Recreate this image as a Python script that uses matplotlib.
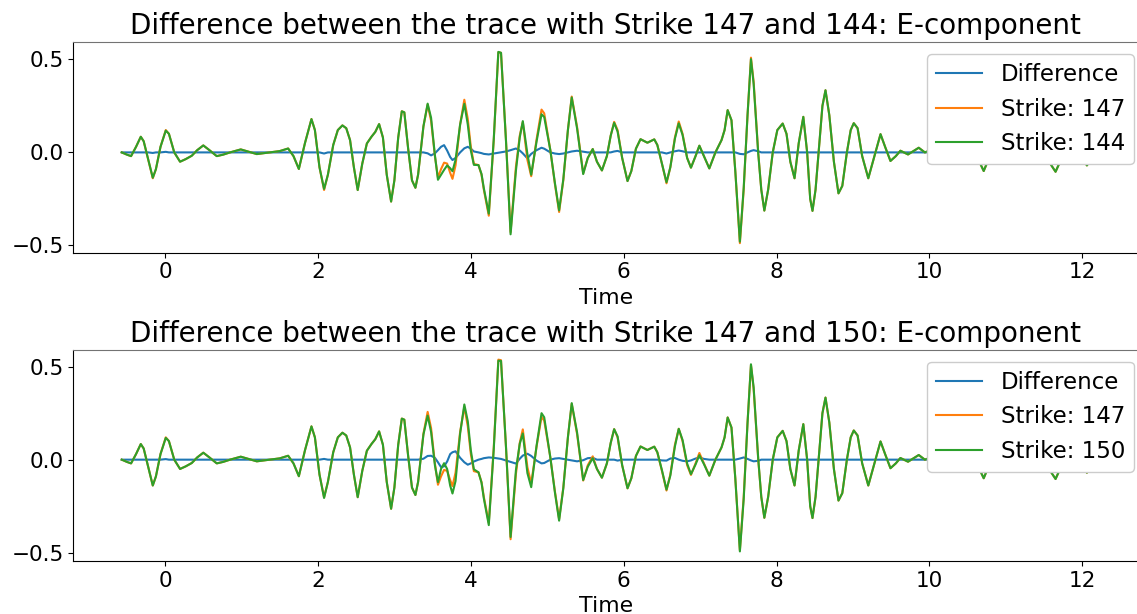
import matplotlib
matplotlib.use("Agg")
import matplotlib.pyplot as plt
import numpy as np

# Sample times (s) of the E-component traces
time = [
    -0.567, -0.50, -0.445, -0.38, -0.318, -0.28, -0.22, -0.161, -0.12, -0.06,
    0.009, 0.05, 0.12, 0.196, 0.27, 0.349, 0.42, 0.50, 0.58, 0.676,
    0.76, 0.85, 0.99, 1.09, 1.2, 1.37, 1.5, 1.61, 1.68, 1.75,
    1.83, 1.915, 1.96, 2.02, 2.08, 2.13, 2.20, 2.26, 2.32, 2.37,
    2.42, 2.47, 2.52, 2.58, 2.64, 2.70, 2.75, 2.80, 2.85, 2.90,
    2.957, 3.00, 3.05, 3.097, 3.13, 3.18, 3.23, 3.275, 3.31, 3.38,
    3.435, 3.48, 3.53, 3.57, 3.61, 3.65, 3.69, 3.73, 3.76, 3.80,
    3.86, 3.915, 3.96, 4.00, 4.04, 4.10, 4.14, 4.17, 4.235, 4.30,
    4.36, 4.395, 4.46, 4.52, 4.59, 4.64, 4.68, 4.74, 4.79, 4.86,
    4.925, 4.96, 5.04, 5.10, 5.155, 5.21, 5.27, 5.32, 5.39, 5.47,
    5.53, 5.595, 5.65, 5.715, 5.78, 5.83, 5.875, 5.92, 5.98, 6.05,
    6.10, 6.16, 6.22, 6.31, 6.40, 6.44, 6.50, 6.56, 6.61, 6.67,
    6.72, 6.77, 6.83, 6.88, 6.94, 6.99, 7.05, 7.12, 7.20, 7.28,
    7.32, 7.36, 7.41, 7.46, 7.52, 7.57, 7.62, 7.665, 7.70, 7.76,
    7.80, 7.84, 7.89, 7.95, 8.01, 8.08, 8.13, 8.18, 8.235, 8.29,
    8.35, 8.40, 8.44, 8.47, 8.51, 8.56, 8.60, 8.64, 8.69, 8.75,
    8.81, 8.86, 8.92, 8.97, 9.01, 9.06, 9.12, 9.20, 9.28, 9.36,
    9.42, 9.49, 9.56, 9.62, 9.72, 9.86, 9.94, 10.02, 10.12, 10.25,
    10.40, 10.53, 10.63, 10.71, 10.78, 10.87, 10.95, 11.05, 11.14, 11.22,
    11.32, 11.42, 11.52, 11.58, 11.65, 11.72, 11.82, 11.90, 11.97, 12.02,
    12.06, 12.10,
]

# Trace for strike 147
strike_147 = [
    0.0, -0.012, -0.02, 0.03, 0.084, 0.06, -0.04, -0.139, -0.09, 0.03,
    0.12, 0.10, 0.0, -0.05, -0.036, -0.018, 0.012, 0.0375, 0.012, -0.02,
    -0.012, 0.0, 0.016, 0.004, -0.009, 0.0, 0.007, 0.021, -0.02, -0.089,
    0.05, 0.179, 0.12, -0.08, -0.202, -0.12, 0.04, 0.12, 0.145, 0.13,
    0.066, -0.08, -0.202, -0.06, 0.048, 0.084, 0.11, 0.152, 0.08, -0.12,
    -0.264, -0.15, 0.08, 0.221, 0.215, 0.02, -0.15, -0.19, -0.12, 0.14,
    0.257, 0.17, -0.02, -0.135, -0.09, -0.055, -0.06, -0.11, -0.142, -0.07,
    0.15, 0.283, 0.18, 0.03, -0.062, -0.068, -0.12, -0.2, -0.34, 0.066,
    0.538, 0.535, 0.066, -0.428, -0.077, 0.09, 0.163, -0.04, -0.128, 0.07,
    0.23, 0.21, 0.0125, -0.17, -0.32, -0.15, 0.12, 0.30, 0.1375, -0.1125,
    -0.03, 0.018, -0.05, -0.097, -0.02, 0.09, 0.164, 0.12, -0.03, -0.154,
    -0.1, 0.02, 0.071, 0.052, 0.07, 0.04, -0.06, -0.166, -0.08, 0.08,
    0.166, 0.1, -0.03, -0.082, -0.02, 0.036, -0.02, -0.086, 0.0, 0.066,
    0.12, 0.227, 0.173, -0.1, -0.4875, -0.2, 0.2, 0.509, 0.38, 0.0,
    -0.2, -0.3125, -0.2, 0.0, 0.12, 0.155, 0.1, -0.05, -0.139, 0.05,
    0.191, 0.0, -0.25, -0.314, -0.2, 0.05, 0.25, 0.334, 0.2, -0.05,
    -0.22, -0.18, 0.0, 0.12, 0.157, 0.13, -0.02, -0.139, -0.02, 0.098,
    0.03, -0.046, -0.02, 0.009, -0.011, 0.025, 0.0, 0.012, 0.02, -0.01,
    0.03, 0.05, -0.03, -0.10, -0.03, 0.06, 0.03, -0.03, -0.06, -0.02,
    0.04, 0.05, 0.0, -0.06, -0.104, -0.04, 0.04, 0.05, 0.0, -0.04,
    -0.07, -0.045,
]

# Difference strike 147 minus strike 144
diff_144 = [
    0, 0, 0, 0, 0, 0, 0, -0.003, 0, 0,
    0.003, 0, 0, 0, 0, 0, 0, 0, 0, 0,
    0, 0, 0, 0, 0, 0, 0, 0, 0, 0,
    0, 0, 0, 0, -0.006, 0, 0, 0, 0, 0,
    0, 0, 0, 0, 0, 0, 0, 0, 0, 0,
    0, 0, 0, 0, 0, 0, 0, 0, 0, 0,
    -0.005, -0.016, -0.005, 0.012, 0.03, 0.039, 0.01, -0.025, -0.041, -0.03,
    0.0, 0.022, 0.03, 0.02, 0.005, 0.0, -0.004, -0.008, -0.011, -0.006,
    -0.002, 0.0, 0.005, 0.012, 0.021, 0.01, -0.005, -0.032, -0.008, 0.012,
    0.025, 0.02, 0.0, -0.006, -0.009, -0.006, 0.0, 0.005, 0.009, 0.004,
    0.0, 0, 0, 0, 0, 0, 0.005, 0.008, 0, 0,
    0, 0, 0, 0, 0, 0, 0, -0.006, 0, 0.006,
    0.01, 0.006, 0, 0, 0, 0, 0, 0, 0, 0,
    0, 0, 0, 0, -0.008, -0.01, 0, 0.008, 0.012, 0.006,
    0, 0, 0, 0, 0, 0, 0, 0, 0, 0,
    0, 0, 0, 0, 0, 0, 0, 0, 0, 0,
    0, 0, 0, 0, 0, 0, 0, 0, 0, 0,
    0, 0, 0, 0, 0, 0, 0, 0, 0, 0,
    0, 0, 0, 0, 0, 0, 0, 0, 0, 0,
    0, 0, 0, 0, 0, 0, 0, 0, 0, 0,
    0, 0,
]

# Difference strike 147 minus strike 150
diff_150 = [
    0, 0, 0, 0, 0, 0, 0, 0, 0, 0,
    0.003, 0, 0, 0, 0, 0, 0, 0, 0, 0,
    0, 0, 0, 0, 0, 0, 0, 0, 0, 0,
    0, 0, 0, 0, 0.004, 0, 0, 0, 0, 0,
    0, 0, 0, 0, 0, 0, 0, 0, 0, 0,
    0, 0, 0, 0, 0, 0, 0, 0, 0, 0.005,
    0.02, 0.021, 0.01, -0.014, -0.04, -0.036, -0.01, 0.03, 0.04, 0.045,
    0.01, -0.014, -0.027, -0.02, -0.01, 0.0, 0.004, 0.008, 0.012, 0.01,
    0.006, 0.004, -0.004, -0.012, -0.021, 0.005, 0.022, 0.032, 0.02, -0.005,
    -0.02, -0.018, 0.0, 0.006, 0.008, 0.004, 0.0, -0.004, -0.009, -0.003,
    0.008, 0.01, 0, 0, 0, 0, 0, -0.005, 0, 0,
    0, 0, 0, 0, 0, 0, -0.004, -0.005, 0.006, 0.009,
    0, -0.006, -0.009, -0.004, 0.006, 0.012, 0.004, 0, 0, 0,
    0, 0, 0, 0, 0.006, 0.012, 0.004, -0.004, -0.009, -0.006,
    0, 0, 0, 0, 0, 0, 0, 0, 0, 0,
    0, 0, 0, 0, 0, 0, 0, 0, 0, 0,
    0, 0, 0, 0, 0, 0, 0, 0, 0, 0,
    0, 0, 0, 0, 0, 0, 0, 0, 0, 0,
    0, 0, 0, 0, 0, 0, 0, 0, 0, 0,
    0, 0, 0, 0, 0, 0, 0, 0, 0, 0,
    0, 0,
]

reference_strike = 147
other_strikes = [144, 150]

t = np.array(time)
s_ref = np.array(strike_147)
diffs = {144: np.array(diff_144), 150: np.array(diff_150)}

fig = plt.figure(figsize=(11.37, 6.14), dpi=100)
ax_top = fig.add_axes([0.0645, 0.5884, 0.9367, 0.3427])
ax_bot = fig.add_axes([0.0645, 0.0863, 0.9367, 0.3436])
legend_tops = [0.912, 0.4109]

for ax, strike, ltop in zip([ax_top, ax_bot], other_strikes, legend_tops):
    d = diffs[strike]
    other = s_ref - d
    ax.plot(t, d, label="Difference")
    ax.plot(t, s_ref, label=f"Strike: {reference_strike}")
    ax.plot(t, other, label=f"Strike: {strike}")
    ax.set_title(f"Difference between the trace with Strike {reference_strike} "
                 f"and {strike}: E-component", fontsize=20)
    ax.set_xlabel("Time", fontsize=15.8)
    ax.tick_params(labelsize=15.5)
    ax.spines["right"].set_visible(False)
    ax.spines["top"].set_color("0.45")
    ax.legend(fontsize=16.5, loc="upper right", framealpha=1.0,
              bbox_to_anchor=(0.9974, ltop), bbox_transform=fig.transFigure,
              borderaxespad=0)

fig.savefig("out.png", dpi=100)
